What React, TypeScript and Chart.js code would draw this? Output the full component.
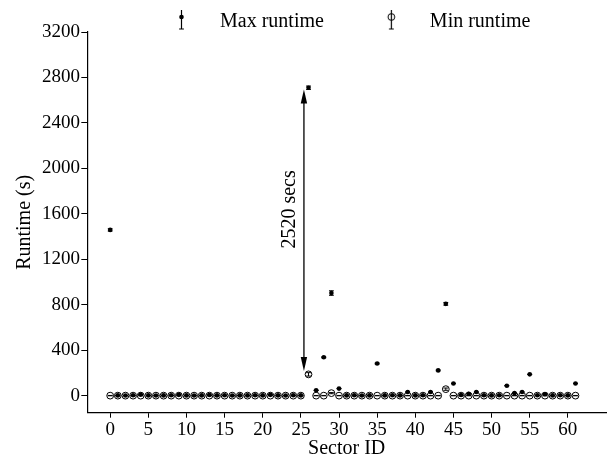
import { useEffect, useRef } from 'react';
import { Chart, registerables } from 'chart.js';

Chart.register(...registerables);

const sectorIds = [
  0, 1, 2, 3, 4, 5, 6, 7, 8, 9, 10, 11, 12, 13, 14, 15, 16, 17, 18, 19, 20,
  21, 22, 23, 24, 25, 26, 27, 28, 29, 30, 31, 32, 33, 34, 35, 36, 37, 38, 39, 40,
  41, 42, 43, 44, 45, 46, 47, 48, 49, 50, 51, 52, 53, 54, 55, 56, 57, 58, 59, 60, 61,
];

const maxRuntime = [
  1460, 5, 4, 6, 12, 5, 4, 5, 6, 10, 5, 4, 5, 8, 5, 6, 4, 5, 5, 6, 5,
  10, 5, 4, 6, 5, 2710, 50, 340, 905, 65, 5, 6, 4, 5, 285, 5, 6, 5, 35, 5,
  6, 35, 225, 810, 110, 8, 20, 35, 6, 5, 6, 90, 25, 35, 190, 6, 15, 5, 6, 5, 110,
];

const minRuntime = [
  3, 3, 3, 3, 3, 3, 3, 3, 3, 3, 3, 3, 3, 3, 3, 3, 3, 3, 3, 3, 3,
  3, 3, 3, 3, 3, 190, 3, 3, 25, 3, 3, 3, 3, 3, 3, 3, 3, 3, 3, 3,
  3, 3, 3, 60, 3, 3, 3, 3, 3, 3, 3, 3, 3, 3, 3, 3, 3, 3, 3, 3, 3,
];

const maxError = [
  10, 2, 2, 2, 2, 2, 2, 2, 2, 2, 2, 2, 2, 2, 2, 2, 2, 2, 2, 2, 2,
  2, 2, 2, 2, 2, 15, 2, 5, 20, 2, 2, 2, 2, 2, 5, 2, 2, 2, 2, 2,
  2, 2, 5, 12, 2, 2, 2, 2, 2, 2, 2, 2, 2, 2, 2, 2, 2, 2, 2, 2, 2,
];

const minError = [
  1.5, 1.5, 1.5, 1.5, 1.5, 1.5, 1.5, 1.5, 1.5, 1.5, 1.5, 1.5, 1.5, 1.5, 1.5, 1.5, 1.5, 1.5, 1.5, 1.5, 1.5,
  1.5, 1.5, 1.5, 1.5, 1.5, 15, 1.5, 1.5, 5, 1.5, 1.5, 1.5, 1.5, 1.5, 1.5, 1.5, 1.5, 1.5, 1.5, 1.5,
  1.5, 1.5, 1.5, 10, 1.5, 1.5, 1.5, 1.5, 1.5, 1.5, 1.5, 1.5, 1.5, 1.5, 1.5, 1.5, 1.5, 1.5, 1.5, 1.5, 1.5,
];

const xTicks = [0, 5, 10, 15, 20, 25, 30, 35, 40, 45, 50, 55, 60];
const yTicks = [0, 400, 800, 1200, 1600, 2000, 2400, 2800, 3200];
const seriesLabels = ['Max runtime', 'Min runtime'];
const errorSets = [maxError, minError];

const gapArrowX = [25.4];
const gapArrowFrom = [220];
const gapArrowTo = [2695];
const gapLabel = ['2520 secs'];
const gapLabelPos = [23.5, 1640];

const FONT = "'Liberation Serif', 'Times New Roman', serif";
const CAP = 2.4;

const errorBarPlugin = {
  id: 'errorBars',
  beforeDatasetsDraw(chart: any) {
    const { ctx } = chart;
    const xs = chart.scales.x;
    const ys = chart.scales.y;
    chart.data.datasets.forEach((ds: any, i: number) => {
      const errs = errorSets[i];
      ctx.save();
      ctx.strokeStyle = '#000';
      ctx.lineWidth = 1;
      ds.data.forEach((pt: any, j: number) => {
        const e = errs[j];
        const px = xs.getPixelForValue(pt.x);
        const y1 = ys.getPixelForValue(pt.y - e);
        const y2 = ys.getPixelForValue(pt.y + e);
        ctx.beginPath();
        ctx.moveTo(px, y1);
        ctx.lineTo(px, y2);
        ctx.moveTo(px - CAP, y1);
        ctx.lineTo(px + CAP, y1);
        ctx.moveTo(px - CAP, y2);
        ctx.lineTo(px + CAP, y2);
        ctx.stroke();
      });
      ctx.restore();
    });
  },
};

const annotationPlugin = {
  id: 'gapArrow',
  afterDatasetsDraw(chart: any) {
    const { ctx } = chart;
    const xs = chart.scales.x;
    const ys = chart.scales.y;
    const px = xs.getPixelForValue(gapArrowX[0]);
    const yTop = ys.getPixelForValue(gapArrowTo[0]);
    const yBot = ys.getPixelForValue(gapArrowFrom[0]);
    const headLen = 14;
    const headHalf = 3.2;
    ctx.save();
    ctx.strokeStyle = '#000';
    ctx.fillStyle = '#000';
    ctx.lineWidth = 1.3;
    ctx.beginPath();
    ctx.moveTo(px, yTop + headLen - 2);
    ctx.lineTo(px, yBot - headLen + 2);
    ctx.stroke();
    ctx.beginPath();
    ctx.moveTo(px, yTop);
    ctx.lineTo(px - headHalf, yTop + headLen);
    ctx.lineTo(px + headHalf, yTop + headLen);
    ctx.closePath();
    ctx.fill();
    ctx.beginPath();
    ctx.moveTo(px, yBot);
    ctx.lineTo(px - headHalf, yBot - headLen);
    ctx.lineTo(px + headHalf, yBot - headLen);
    ctx.closePath();
    ctx.fill();
    const tx = xs.getPixelForValue(gapLabelPos[0]);
    const ty = ys.getPixelForValue(gapLabelPos[1]);
    ctx.translate(tx, ty);
    ctx.rotate(-Math.PI / 2);
    ctx.font = `20px ${FONT}`;
    ctx.textAlign = 'center';
    ctx.textBaseline = 'middle';
    ctx.fillText(gapLabel[0], 0, 0);
    ctx.restore();
  },
};

function makeIcon(width: number, gx: number, filled: boolean): HTMLCanvasElement {
  const c = document.createElement('canvas');
  c.width = width;
  c.height = 36;
  const g = c.getContext('2d')!;
  g.strokeStyle = '#000';
  g.fillStyle = '#000';
  g.lineWidth = 1.2;
  const x = gx;
  g.beginPath();
  g.moveTo(x, 1);
  g.lineTo(x, 25);
  g.moveTo(x - CAP, 1);
  g.lineTo(x + CAP, 1);
  g.moveTo(x - CAP, 25);
  g.lineTo(x + CAP, 25);
  g.stroke();
  g.beginPath();
  if (filled) {
    g.arc(x, 13, 2.3, 0, Math.PI * 2);
    g.fill();
  } else {
    g.lineWidth = 1;
    g.arc(x, 13, 3.4, 0, Math.PI * 2);
    g.stroke();
  }
  return c;
}

export default function App() {
  const ref = useRef<HTMLCanvasElement>(null);

  useEffect(() => {
    const canvas = ref.current!;
    const mctx = canvas.getContext('2d')!;
    mctx.font = `20px ${FONT}`;
    const tw1 = mctx.measureText(seriesLabels[0]).width;
    const pad = 2;
    const W = Math.round(171 - pad - tw1 + 28.5);
    const gx = W - 28.5;
    const icons = [makeIcon(W, gx, true), makeIcon(W, gx, false)];
    const targetStart = 181.5 - gx;

    const legendShift = {
      id: 'legendShift',
      afterLayout(chart: any) {
        const lg = chart.legend;
        if (!lg || !lg.lineWidths) return;
        const x0 = (lg.left + pad + lg.right - lg.lineWidths[0]) / 2;
        const dx = targetStart - x0;
        const dy = 12 - (lg.top + pad);
        lg.left += dx;
        lg.right += dx;
        lg.top += dy;
        lg.bottom += dy;
      },
    };

    const chart = new Chart(canvas, {
      type: 'scatter',
      data: {
        datasets: [
          {
            label: seriesLabels[0],
            data: sectorIds.map((x, i) => ({ x, y: maxRuntime[i] })),
            pointRadius: 2.3,
            pointBackgroundColor: '#000',
            pointBorderColor: '#000',
            pointBorderWidth: 0,
            showLine: false,
          },
          {
            label: seriesLabels[1],
            data: sectorIds.map((x, i) => ({ x, y: minRuntime[i] })),
            pointRadius: 3.4,
            pointBackgroundColor: 'rgba(0,0,0,0)',
            pointBorderColor: '#000',
            pointBorderWidth: 1,
            showLine: false,
          },
        ],
      },
      options: {
        responsive: false,
        animation: false,
        devicePixelRatio: 1,
        layout: { padding: { left: 0, right: 3, top: 0, bottom: 0 } },
        font: { family: FONT },
        plugins: {
          legend: {
            position: 'top',
            labels: {
              usePointStyle: true,
              pointStyleWidth: W,
              padding: pad,
              color: '#000',
              font: { size: 20, family: FONT },
              generateLabels: () =>
                seriesLabels.map((text, i) => ({
                  text,
                  pointStyle: icons[i],
                  fillStyle: '#000',
                  strokeStyle: '#000',
                  lineWidth: 0,
                  hidden: false,
                  datasetIndex: i,
                })),
            },
          },
          tooltip: { enabled: false },
        },
        scales: {
          x: {
            type: 'linear',
            min: -3,
            max: 65,
            afterBuildTicks: (s: any) => {
              s.ticks = xTicks.map((v) => ({ value: v }));
            },
            afterFit: (s: any) => {
              s.height = 47.3;
            },
            ticks: {
              color: '#000',
              font: { size: 19, family: FONT },
              padding: 1,
              maxRotation: 0,
              autoSkip: false,
              callback: (v: any) => String(v),
            },
            grid: {
              display: true,
              drawOnChartArea: false,
              drawTicks: true,
              tickLength: 5,
              color: '#000',
              lineWidth: 1,
            },
            border: { display: true, color: '#000', width: 1.2 },
            title: {
              display: true,
              text: 'Sector ID',
              color: '#000',
              font: { size: 20, family: FONT },
              padding: { top: 0, bottom: -1 },
            },
          },
          y: {
            type: 'linear',
            min: -147,
            max: 3200,
            afterBuildTicks: (s: any) => {
              s.ticks = yTicks.map((v) => ({ value: v }));
            },
            afterFit: (s: any) => {
              s.width = 87.3;
            },
            ticks: {
              color: '#000',
              font: { size: 19, family: FONT },
              padding: 1.3,
              autoSkip: false,
              callback: (v: any) => String(v),
            },
            grid: {
              display: true,
              drawOnChartArea: false,
              drawTicks: true,
              tickLength: 6,
              color: '#000',
              lineWidth: 1,
            },
            border: { display: true, color: '#000', width: 1.2 },
            title: {
              display: true,
              text: 'Runtime (s)',
              color: '#000',
              font: { size: 20, family: FONT },
              padding: { top: 13, bottom: 0 },
            },
          },
        },
      } as any,
      plugins: [errorBarPlugin, annotationPlugin, legendShift],
    });

    return () => chart.destroy();
  }, []);

  return (
    <div style={{ position: 'absolute', left: 0, top: 0, width: 611, height: 460, background: '#fff' }}>
      <canvas ref={ref} width={611} height={460} style={{ display: 'block', width: 611, height: 460 }} />
    </div>
  );
}
